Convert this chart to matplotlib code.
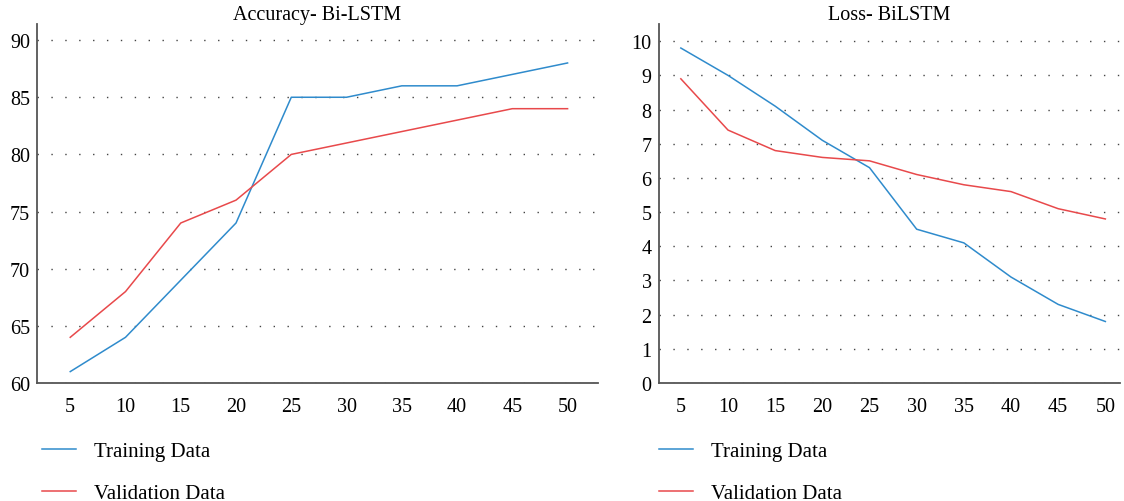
import matplotlib
matplotlib.use("Agg")
import matplotlib.pyplot as plt

epochs = ['5', '10', '15', '20', '25', '30', '35', '40', '45', '50']
acc_train = [61, 64, 69, 74, 85, 85, 86, 86, 87, 88]
acc_val = [64, 68, 74, 76, 80, 81, 82, 83, 84, 84]
loss_train = [9.8, 9.0, 8.1, 7.1, 6.3, 4.5, 4.1, 3.1, 2.3, 1.8]
loss_val = [8.9, 7.4, 6.8, 6.6, 6.5, 6.1, 5.8, 5.6, 5.1, 4.8]

blue = '#2f8bcc'
red = '#e8494b'

plt.rcParams['font.family'] = ['Liberation Serif', 'DejaVu Serif']
plt.rcParams['font.size'] = 14.5

fig = plt.figure(figsize=(11.24, 5.02), dpi=100)
ax1 = fig.add_axes([0.033, 0.235, 0.499, 0.715])
ax2 = fig.add_axes([0.586, 0.235, 0.410, 0.715])

x = list(range(len(epochs)))


def style(ax, yticks, ylim, xlim, title, legx):
    ax.set_ylim(*ylim)
    ax.set_xlim(*xlim)
    ax.set_yticks(yticks)
    ax.set_xticks(x)
    ax.set_xticklabels(epochs)
    ax.grid(axis='y', color='#444444', linestyle=(0, (1, 9)), linewidth=1)
    ax.set_axisbelow(True)
    for s in ['top', 'right']:
        ax.spines[s].set_visible(False)
    for s in ['left', 'bottom']:
        ax.spines[s].set_color('#555555')
        ax.spines[s].set_linewidth(1.3)
    ax.tick_params(axis='both', length=0)
    ax.tick_params(axis='y', pad=5)
    ax.tick_params(axis='x', pad=10)
    ax.set_title(title, fontsize=14.5, pad=1)
    fig.legend(handles=ax.get_lines(), loc='upper left',
               bbox_to_anchor=(legx, 0.118), frameon=False,
               handlelength=1.65, handletextpad=0.85, labelspacing=1.05,
               borderpad=0, borderaxespad=0, fontsize=15)


ax1.plot(x, acc_train, color=blue, linewidth=1.1, label='Training Data')
ax1.plot(x, acc_val, color=red, linewidth=1.1, label='Validation Data')
style(ax1, [60, 65, 70, 75, 80, 85, 90], (60, 91.4), (-0.6, 9.55),
      'Accuracy- Bi-LSTM', 0.037)

ax2.plot(x, loss_train, color=blue, linewidth=1.1, label='Training Data')
ax2.plot(x, loss_val, color=red, linewidth=1.1, label='Validation Data')
style(ax2, list(range(11)), (0, 10.5), (-0.47, 9.3),
      'Loss- BiLSTM', 0.586)

plt.savefig("out.png", dpi=100)
